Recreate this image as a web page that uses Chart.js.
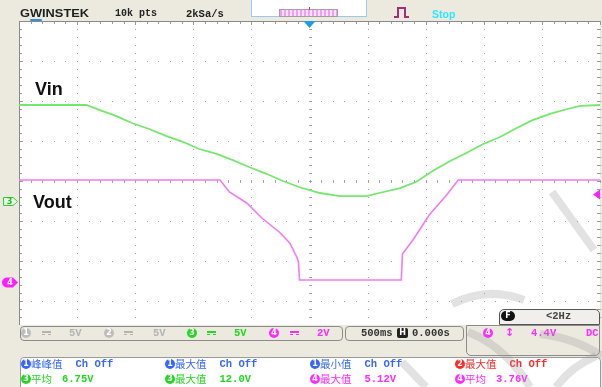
<!DOCTYPE html>
<html>
<head>
<meta charset="utf-8">
<title>Vin / Vout</title>
<script src="https://cdn.jsdelivr.net/npm/chart.js@4.4.1/dist/chart.umd.min.js"></script>
<style>
  html, body { margin: 0; padding: 0; background: #ece9de; }
  #screen { position: relative; width: 602px; height: 387px; overflow: hidden; }
  #scope { position: absolute; left: 0; top: 0; }
  .a { position: absolute; white-space: nowrap; z-index: 2; }
  .r { display: flex; align-items: center; height: 12px; z-index: 3; }
  .mono { font-family: "Liberation Mono", "DejaVu Sans Mono", monospace; font-weight: bold; font-size: 10.5px; line-height: 12px; }
  .cjk { font-family: "Noto Sans CJK SC", sans-serif; font-size: 10.5px; line-height: 12px; }
  .cd { display: inline-block; width: 10px; height: 10px; border-radius: 50%; color: #fff; font: bold 8px/10px "DejaVu Sans", sans-serif; text-align: center; flex: none; }
  .box { position: absolute; box-sizing: border-box; border: 1.5px solid #8c8c8c; border-radius: 4px; z-index: 2; }
  .dcsym { display: inline-block; width: 9px; height: 4px; border-top: 2px solid currentColor; border-bottom: 1px dashed currentColor; box-sizing: border-box; }
  .lbl { font-family: "Liberation Sans", Arial, sans-serif; font-weight: bold; font-size: 18px; line-height: 18px; color: #111; }
  .blue { color: #3566ff; } .red { color: #ff2a2a; } .green { color: #22d822; } .mag { color: #ff2bff; } .grey { color: #b4b4b4; }
  .bblue { background: #3566ff; } .bred { background: #ff2a2a; } .bgreen { background: #22d822; } .bmag { background: #ff2bff; } .bgrey { background: #bdbdbd; }
</style>
</head>
<body>
<div id="screen">
  <canvas id="scope" width="602" height="387"></canvas>

  <!-- top bar -->
  <div class="a" style="left:20px;top:9px;font:bold 10px/10px 'Liberation Sans',Arial,sans-serif;color:#1e1e1e;transform:scaleX(1.28);transform-origin:left;">G<span style="border-bottom:2px solid #2d8fe6">W</span>INSTEK</div>
  <div class="a mono" style="left:115px;top:8px;color:#222;font-size:10px;">10k pts</div>
  <div class="a mono" style="left:186px;top:8px;color:#222;">2kSa/s</div>
  <div class="a" style="left:251px;top:-1px;width:114px;height:17px;background:#fff;border:1px solid #9cc8ec;border-top:none;"></div>
  <div class="a" style="left:279px;top:9px;width:57px;height:6px;border:1px solid #a0a0a0;background:repeating-linear-gradient(90deg,#f59cf5 0 2px,#fbe3fb 2px 4px);"></div>
  <div class="a" style="left:309px;top:7px;width:1px;height:3px;background:#e03030;"></div>
  <svg class="a" style="left:393px;top:6px;" width="20" height="14"><polyline points="1,11 5,11 5,2 12,2 12,11 16,11" fill="none" stroke="#a32f7c" stroke-width="2"/></svg>
  <div class="a" style="left:432px;top:9px;font:bold 10.5px/10px 'Liberation Sans',Arial,sans-serif;color:#2ee6ff;">Stop</div>

  <!-- trace labels -->
  <div class="a lbl" style="left:35px;top:80px;">Vin</div>
  <div class="a lbl" style="left:33px;top:193px;">Vout</div>

  <!-- lower panel background -->
  <div class="a" style="left:0;top:325px;width:602px;height:62px;background:#ece9de;z-index:1;"></div>

  <!-- frequency box -->
  <div class="box" style="left:499px;top:309px;width:101px;height:16px;border-color:#555;border-radius:5px 5px 0 0;background:#f0efec;"></div>
  <div class="a" style="left:501px;top:311px;width:14px;height:10px;border-radius:5px;background:#111;color:#fff;font:bold 8px/10px 'DejaVu Sans',sans-serif;text-align:center;z-index:3;">F</div>
  <div class="a mono" style="left:546px;top:310px;color:#444;z-index:3;">&lt;2Hz</div>

  <!-- channel status -->
  <div class="box" style="left:20px;top:326px;width:323px;height:15px;"></div>
  <div class="a r" style="left:21px;top:327px;"><span class="cd bgrey">1</span></div>
  <div class="a r grey" style="left:42px;top:327px;"><span class="dcsym"></span></div>
  <div class="a r mono grey" style="left:69px;top:327px;">5V</div>
  <div class="a r" style="left:104px;top:327px;"><span class="cd bgrey">2</span></div>
  <div class="a r grey" style="left:124px;top:327px;"><span class="dcsym"></span></div>
  <div class="a r mono grey" style="left:153px;top:327px;">5V</div>
  <div class="a r" style="left:187px;top:327px;"><span class="cd bgreen">3</span></div>
  <div class="a r green" style="left:207px;top:327px;"><span class="dcsym"></span></div>
  <div class="a r mono green" style="left:234px;top:327px;">5V</div>
  <div class="a r" style="left:269px;top:327px;"><span class="cd bmag">4</span></div>
  <div class="a r mag" style="left:290px;top:327px;"><span class="dcsym"></span></div>
  <div class="a r mono mag" style="left:317px;top:327px;">2V</div>

  <div class="box" style="left:345px;top:326px;width:119px;height:15px;"></div>
  <div class="a r mono" style="left:361px;top:327px;color:#333;">500ms</div>
  <div class="a" style="left:397px;top:328px;width:11px;height:10px;border-radius:2px;background:#222;color:#fff;font:bold 8px/10px 'DejaVu Sans',sans-serif;text-align:center;z-index:3;">H</div>
  <div class="a r mono" style="left:412px;top:327px;color:#333;">0.000s</div>

  <div class="box" style="left:466px;top:325px;width:134px;height:31px;border-radius:0 0 5px 5px;"></div>
  <div class="a r" style="left:483px;top:327px;"><span class="cd bmag">4</span></div>
  <div class="a r mag" style="left:505px;top:327px;font:bold 11px/12px 'DejaVu Sans',sans-serif;">↕</div>
  <div class="a r mono mag" style="left:531px;top:327px;">4.4V</div>
  <div class="a r mono mag" style="left:586px;top:327px;">DC</div>

  <!-- measurements -->
  <div class="box" style="left:20px;top:357px;width:581px;height:40px;background:#fff;border-color:#9a9a9a;border-radius:4px 4px 0 0;"></div>
  <div class="a r blue" style="left:21px;top:358px;"><span class="cd bblue">1</span><span class="cjk">峰峰值</span><span class="mono" style="margin-left:13px;">Ch Off</span></div>
  <div class="a r blue" style="left:165px;top:358px;"><span class="cd bblue">1</span><span class="cjk">最大值</span><span class="mono" style="margin-left:13px;">Ch Off</span></div>
  <div class="a r blue" style="left:310px;top:358px;"><span class="cd bblue">1</span><span class="cjk">最小值</span><span class="mono" style="margin-left:13px;">Ch Off</span></div>
  <div class="a r red" style="left:455px;top:358px;"><span class="cd bred">2</span><span class="cjk">最大值</span><span class="mono" style="margin-left:13px;">Ch Off</span></div>
  <div class="a r green" style="left:21px;top:373px;"><span class="cd bgreen">3</span><span class="cjk">平均</span><span class="mono" style="margin-left:10px;">6.75V</span></div>
  <div class="a r green" style="left:165px;top:373px;"><span class="cd bgreen">3</span><span class="cjk">最大值</span><span class="mono" style="margin-left:13px;">12.0V</span></div>
  <div class="a r mag" style="left:310px;top:373px;"><span class="cd bmag">4</span><span class="cjk">最大值</span><span class="mono" style="margin-left:13px;">5.12V</span></div>
  <div class="a r mag" style="left:455px;top:373px;"><span class="cd bmag">4</span><span class="cjk">平均</span><span class="mono" style="margin-left:10px;">3.76V</span></div>

  <!-- faint watermark strokes -->
  <svg class="a" style="left:0;top:0;z-index:5;pointer-events:none;" width="602" height="387">
    <g fill="none" stroke="rgba(150,150,150,0.28)" stroke-width="8">
      <path d="M552 192 L594 250"/>
      <path d="M452 304 Q488 286 524 300"/>
      <path d="M468 332 Q505 346 530 387"/>
      <path d="M540 334 Q575 338 602 356"/>
      <path d="M402 362 L426 387"/>
      <path d="M556 387 Q572 366 596 356"/>
    </g>
  </svg>
</div>

<script>
// time axis: 500 ms/div, 10 divisions, trigger at centre
const vinTime  = [-2.5, -1.92, -1.81, -1.66, -1.53, -1.38, -1.23, -1.09, -0.95, -0.80, -0.66, -0.52, -0.37, -0.23, -0.09, 0.09,
                  0.26, 0.49, 0.60, 0.78, 0.92, 1.06, 1.21, 1.35, 1.49, 1.64, 1.78, 1.92, 2.07, 2.22, 2.33, 2.5];
const vinVolts = [12.0, 12.0, 11.4, 10.6, 9.75, 9.0, 8.1, 7.4, 6.5, 5.9, 5.1, 4.25, 3.4, 2.5, 1.75, 1.0,
                  0.6, 0.6, 1.0, 1.6, 2.4, 3.75, 5.0, 6.0, 7.1, 8.0, 9.1, 10.1, 10.9, 11.5, 11.9, 12.0];

const voutTime  = [-2.5, -0.77, -0.69, -0.54, -0.41, -0.26, -0.17, -0.11, -0.095, -0.086, 0.79, 0.80, 0.89, 1.03, 1.18, 1.28, 2.5];
const voutVolts = [5.12, 5.12, 4.52, 3.97, 3.22, 2.52, 1.97, 1.27, 1.02, 0.12, 0.12, 1.42, 2.12, 3.37, 4.37, 5.12, 5.12];

// channel settings (volts per division, ground offset in divisions)
const ch3VoltsPerDiv = 5, ch3Offset = -0.5;
const ch4VoltsPerDiv = 2, ch4Offset = -2.535;
const triggerTime = 0, triggerLevel = 4.4;

const scopePlugin = {
  id: 'scope',
  beforeDraw(c) {
    const ctx = c.ctx, a = c.chartArea, x = c.scales.x, d = c.scales.div;
    ctx.save();
    ctx.fillStyle = '#ece9de';
    ctx.fillRect(0, 0, c.width, c.height);
    ctx.fillStyle = '#ffffff';
    ctx.fillRect(a.left, a.top, a.right - a.left, a.bottom - a.top);

    // dotted graticule
    ctx.fillStyle = '#a6a6a6';
    for (let p = -4; p <= 4; p++) {
      const py = Math.round(d.getPixelForValue(p));
      for (let k = -25; k <= 25; k++) ctx.fillRect(Math.round(x.getPixelForValue(k / 10)), py, 1, 1);
    }
    for (let j = -5; j <= 5; j++) {
      const px = Math.round(x.getPixelForValue(j / 2));
      for (let k = -20; k <= 20; k++) ctx.fillRect(px, Math.round(d.getPixelForValue(k / 5)), 1, 1);
    }
    // centre cross ticks
    const cx = Math.round(x.getPixelForValue(0)), cy = Math.round(d.getPixelForValue(0));
    for (let k = -25; k <= 25; k++) ctx.fillRect(Math.round(x.getPixelForValue(k / 10)), cy - 1, 1, 3);
    for (let k = -20; k <= 20; k++) ctx.fillRect(cx - 1, Math.round(d.getPixelForValue(k / 5)), 3, 1);

    // frame ticks
    ctx.fillStyle = '#9a9a9a';
    for (let k = -25; k <= 25; k++) {
      const px = Math.round(x.getPixelForValue(k / 10));
      ctx.fillRect(px, a.top, 1, k % 5 === 0 ? 4 : 3);
    }
    for (let k = -20; k <= 20; k++) {
      const py = Math.round(d.getPixelForValue(k / 5));
      ctx.fillRect(a.left, py, k % 5 === 0 ? 4 : 3, 1);
      ctx.fillRect(a.right - 3, py, 3, 1);
    }
    ctx.strokeStyle = '#8a8a8a';
    ctx.lineWidth = 1;
    ctx.beginPath();
    ctx.moveTo(a.left + 0.5, a.bottom);
    ctx.lineTo(a.left + 0.5, a.top + 0.5);
    ctx.lineTo(a.right, a.top + 0.5);
    ctx.stroke();
    ctx.restore();
  },
  afterDatasetsDraw(c) {
    const ctx = c.ctx, a = c.chartArea;
    ctx.save();
    // trigger position
    const xt = c.scales.x.getPixelForValue(triggerTime);
    ctx.fillStyle = '#1c9de4';
    ctx.beginPath(); ctx.moveTo(xt - 6, a.top); ctx.lineTo(xt + 6, a.top); ctx.lineTo(xt, a.top + 7); ctx.closePath(); ctx.fill();
    // trigger level (ch4)
    const yt = c.scales.y4.getPixelForValue(triggerLevel);
    ctx.fillStyle = '#ff22ff';
    ctx.beginPath(); ctx.moveTo(a.right, yt - 5); ctx.lineTo(a.right, yt + 5); ctx.lineTo(a.right - 7, yt); ctx.closePath(); ctx.fill();

    ctx.font = 'bold 8px "DejaVu Sans", sans-serif';
    ctx.textAlign = 'center';
    ctx.textBaseline = 'middle';
    // ch3 ground marker
    const g3 = Math.round(c.scales.y3.getPixelForValue(0)) + 0.5;
    ctx.beginPath(); ctx.moveTo(3.5, g3 - 4); ctx.lineTo(13, g3 - 4); ctx.lineTo(17.5, g3); ctx.lineTo(13, g3 + 4); ctx.lineTo(3.5, g3 + 4); ctx.closePath();
    ctx.fillStyle = '#eaffe6'; ctx.fill();
    ctx.strokeStyle = '#2fd22f'; ctx.lineWidth = 1; ctx.stroke();
    ctx.fillStyle = '#22c022'; ctx.fillText('3', 9.5, g3 + 0.5);
    // ch4 ground marker
    const g4 = Math.round(c.scales.y4.getPixelForValue(0)) + 0.5;
    ctx.beginPath(); ctx.moveTo(7, g4 - 5); ctx.lineTo(13, g4 - 5); ctx.lineTo(18, g4); ctx.lineTo(13, g4 + 5); ctx.lineTo(7, g4 + 5);
    ctx.arc(7, g4, 5, Math.PI / 2, Math.PI * 1.5); ctx.closePath();
    ctx.fillStyle = '#ff1eff'; ctx.fill();
    ctx.fillStyle = '#ffffff'; ctx.fillText('4', 10, g4 + 0.5);
    ctx.restore();
  }
};

const toPoints = (ts, vs) => ts.map((t, i) => ({ x: t, y: vs[i] }));

new Chart(document.getElementById('scope'), {
  type: 'line',
  data: {
    datasets: [
      {
        label: 'Vin',
        data: toPoints(vinTime, vinVolts),
        yAxisID: 'y3',
        borderColor: '#74e86c',
        borderWidth: 1.8,
        pointRadius: 0,
        tension: 0
      },
      {
        label: 'Vout',
        data: toPoints(voutTime, voutVolts),
        yAxisID: 'y4',
        borderColor: '#f27af2',
        borderWidth: 1.6,
        pointRadius: 0,
        tension: 0
      }
    ]
  },
  options: {
    responsive: false,
    animation: false,
    devicePixelRatio: 1,
    layout: { padding: { left: 19, top: 21, right: 2, bottom: 46 } },
    plugins: {
      legend: { display: false },
      tooltip: { enabled: false }
    },
    scales: {
      x: { type: 'linear', min: -2.5, max: 2.5, display: false },
      div: { type: 'linear', axis: 'y', min: -4, max: 4, display: false },
      y3: { type: 'linear', min: (-4 - ch3Offset) * ch3VoltsPerDiv, max: (4 - ch3Offset) * ch3VoltsPerDiv, display: false },
      y4: { type: 'linear', min: (-4 - ch4Offset) * ch4VoltsPerDiv, max: (4 - ch4Offset) * ch4VoltsPerDiv, display: false }
    }
  },
  plugins: [scopePlugin]
});
</script>
</body>
</html>
